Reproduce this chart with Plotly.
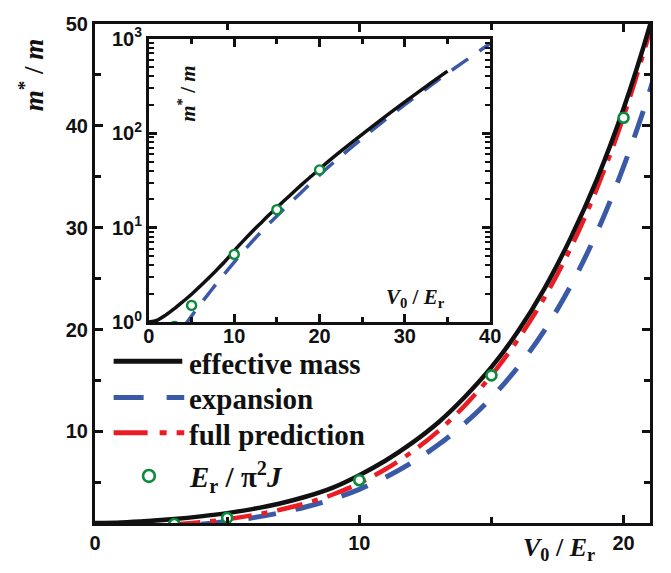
import plotly.graph_objects as go

# ---------------- data ----------------
v0_black = [0, 1, 2, 3, 4, 5, 6, 7, 8, 9, 10, 11, 12, 13, 14, 15, 16, 17, 18, 19, 20, 21,
            22.5, 25, 27.5, 30, 32.5, 35]
m_black = [1.0, 1.05, 1.19, 1.39, 1.65, 1.97, 2.39, 2.92, 3.6, 4.48, 5.7, 7.14, 8.87, 10.9,
           13.4, 16.3, 19.8, 24.0, 29.0, 34.8, 41.7, 49.9,
           64.4, 97, 145, 214, 313, 453]

v0_blue = [4, 5, 6, 7, 8, 9, 10, 11, 12, 13, 14, 15, 16, 17, 18, 19, 20, 21,
           22.5, 25, 27.5, 30, 32.5, 35, 37.5, 40]
m_blue = [0.87, 1.16, 1.53, 2.0, 2.6, 3.35, 4.3, 5.5, 6.95, 8.7, 10.8, 13.3, 16.3, 19.9,
          24.3, 29.6, 36.0, 43.5,
          57, 88, 134, 200, 295, 430, 620, 890]

v0_red = [3, 4, 5, 6, 7, 8, 9, 10, 11, 12, 13, 14, 15, 16, 17, 18, 19, 20, 21]
m_red = [0.85, 1.07, 1.37, 1.78, 2.3, 2.95, 3.8, 4.9, 6.3, 8.0, 10.05, 12.55, 15.5, 19.0,
         23.1, 28.0, 33.9, 40.9, 49.3]

v0_pts = [3, 5, 10, 15, 20]
m_pts = [0.9, 1.5, 5.2, 15.5, 40.8]

main_xticks = [0, 10, 20]
inset_yticks = [1, 10, 100, 1000]
inset_yticktext = ["10<sup>0</sup>", "10<sup>1</sup>", "10<sup>2</sup>", "10<sup>3</sup>"]

legend_labels = ["effective mass", "expansion", "full prediction",
                 "<i>E</i><sub>r</sub> / π<sup>2</sup><i>J</i>"]

# ---------------- styles ----------------
BLACK = "#111111"
BLUE = "#3a5aa8"
RED = "#ec1c24"
GREEN = "#0a8a3a"
SERIF = "Liberation Serif"
SANS = "Liberation Sans"

W, H = 671, 573
ML, MR, MT, MB = 95, 10, 14, 50
PW, PH = W - ML - MR, H - MT - MB


def px2x(px):
    return (px - ML) / PW


def px2y(py):
    return (H - MB - py) / PH


fig = go.Figure()

# main plot traces
fig.add_trace(go.Scatter(x=v0_blue, y=m_blue, mode="lines", name="expansion",
                         line=dict(color=BLUE, width=5, dash="28px,20px", shape="spline"),
                         xaxis="x", yaxis="y", showlegend=False))
fig.add_trace(go.Scatter(x=v0_red, y=m_red, mode="lines", name="full prediction",
                         line=dict(color=RED, width=4.5, dash="26px,10px,6px,10px", shape="spline"),
                         xaxis="x", yaxis="y", showlegend=False))
fig.add_trace(go.Scatter(x=v0_black, y=m_black, mode="lines", name="effective mass",
                         line=dict(color=BLACK, width=4.5, shape="spline"),
                         xaxis="x", yaxis="y", showlegend=False))
fig.add_trace(go.Scatter(x=v0_pts, y=m_pts, mode="markers", name="Er / π²J",
                         marker=dict(symbol="circle", size=10, color="white",
                                     line=dict(color=GREEN, width=2.6)),
                         xaxis="x", yaxis="y", showlegend=False))

# inset traces
fig.add_trace(go.Scatter(x=v0_blue, y=m_blue, mode="lines", name="expansion",
                         line=dict(color=BLUE, width=3.5, dash="20px,14px", shape="spline"),
                         xaxis="x2", yaxis="y2", showlegend=False))
fig.add_trace(go.Scatter(x=v0_black, y=m_black, mode="lines", name="effective mass",
                         line=dict(color=BLACK, width=3.5, shape="spline"),
                         xaxis="x2", yaxis="y2", showlegend=False))
fig.add_trace(go.Scatter(x=v0_pts, y=m_pts, mode="markers", name="Er / π²J",
                         marker=dict(symbol="circle", size=9, color="white",
                                     line=dict(color=GREEN, width=2.4)),
                         xaxis="x2", yaxis="y2", showlegend=False))

tickfont = dict(family=SANS, size=20, color=BLACK, weight="bold")

common = dict(showline=True, linecolor=BLACK, linewidth=3, mirror="allticks",
              ticks="inside", tickcolor=BLACK, tickwidth=2.5, showgrid=False,
              zeroline=False, tickfont=tickfont)

fig.update_layout(
    width=W, height=H,
    margin=dict(l=ML, r=MR, t=MT, b=MB),
    paper_bgcolor="white", plot_bgcolor="white",
    showlegend=False,
    xaxis=dict(range=[0, 21], tickvals=main_xticks, ticklen=8,
               minor=dict(dtick=5, tick0=0, ticks="inside", ticklen=6, tickwidth=2.5,
                          tickcolor=BLACK),
               **common),
    yaxis=dict(range=[1, 50], dtick=10, tick0=0, ticklen=8,
               minor=dict(dtick=5, tick0=0, ticks="inside", ticklen=6, tickwidth=2.5,
                          tickcolor=BLACK),
               **common),
    xaxis2=dict(domain=[px2x(150), px2x(498)], anchor="y2", range=[0, 40], dtick=10,
                tick0=0, ticklen=8, ticklabelstandoff=-6,
                minor=dict(dtick=5, tick0=0, ticks="inside", ticklen=5, tickwidth=2.5,
                           tickcolor=BLACK),
                **common),
    yaxis2=dict(domain=[px2y(318), px2y(29)], anchor="x2", type="log", range=[0, 3],
                tickvals=inset_yticks, ticktext=inset_yticktext, ticklen=8,
                minor=dict(tickmode="array",
                           tickvals=[m * 10 ** e for e in range(3) for m in range(2, 10)],
                           ticks="inside", ticklen=5, tickwidth=2, tickcolor=BLACK),
                **common),
)

annots = [
    dict(text="<b><i>m</i><sup>*</sup> / <i>m</i></b>", x=px2x(30), y=px2y(66),
         textangle=-90, font=dict(family=SERIF, size=27, color=BLACK)),
    dict(text="<b><i>V</i><sub>0</sub> / <i>E</i><sub>r</sub></b>", x=px2x(568), y=px2y(550),
         font=dict(family=SERIF, size=26, color=BLACK)),
    dict(text="<b><i>m</i><sup>*</sup> / <i>m</i></b>", x=px2x(189), y=px2y(85),
         textangle=-90, font=dict(family=SERIF, size=21, color=BLACK)),
    dict(text="<b><i>V</i><sub>0</sub> / <i>E</i><sub>r</sub></b>", x=px2x(422), y=px2y(293),
         font=dict(family=SERIF, size=21, color=BLACK)),
]
for a in annots:
    a.update(xanchor="center", yanchor="middle")
legend_y = [361, 397, 433, 476]
for lab, ly in zip(legend_labels, legend_y):
    annots.append(dict(text="<b>" + lab + "</b>", x=px2x(189), y=px2y(ly), xanchor="left",
                       yanchor="middle", font=dict(family=SERIF, size=29, color=BLACK)))
for a in annots:
    a.update(xref="paper", yref="paper", showarrow=False)
fig.update_layout(annotations=annots)

shapes = [
    dict(type="line", x0=px2x(114), x1=px2x(184), y0=px2y(358), y1=px2y(358),
         line=dict(color=BLACK, width=5)),
    dict(type="line", x0=px2x(114), x1=px2x(186), y0=px2y(395), y1=px2y(395),
         line=dict(color=BLUE, width=5, dash="30px,23px")),
    dict(type="line", x0=px2x(114), x1=px2x(186), y0=px2y(431), y1=px2y(431),
         line=dict(color=RED, width=5, dash="34px,12px,7px,10px")),
    dict(type="circle", x0=px2x(144), x1=px2x(156), y0=px2y(481), y1=px2y(469),
         line=dict(color=GREEN, width=2.6), fillcolor="white"),
]
for s in shapes:
    s.update(xref="paper", yref="paper")
fig.update_layout(shapes=shapes)

fig.write_html("out.html", config={"displayModeBar": False},
               post_script="document.body.style.margin='0';document.body.style.padding='0';")
